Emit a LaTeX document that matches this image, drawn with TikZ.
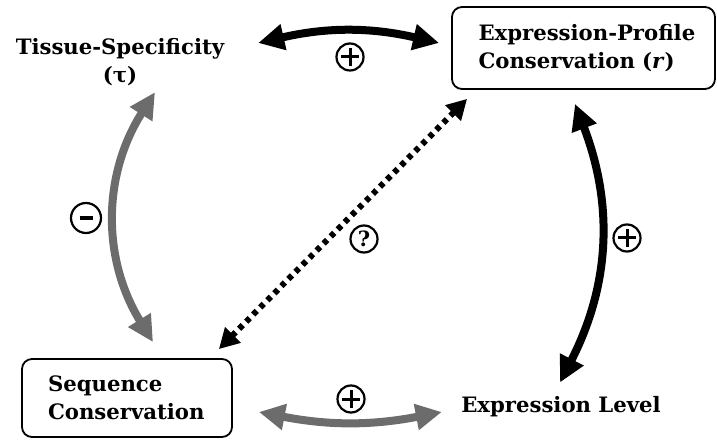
\documentclass[tikz,border=0pt]{standalone}
\usepackage{fontspec}
\setmainfont{DejaVu Serif}
\usetikzlibrary{arrows.meta,calc,shapes.geometric}
\definecolor{agray}{RGB}{108,108,108}
\begin{document}
\begin{tikzpicture}[x=1pt,y=1pt,
  lbl/.style={font=\fontsize{21.2}{27.5}\selectfont\bfseries, inner sep=0pt},
  boxnode/.style={lbl, draw, line width=1.8pt, rounded corners=10pt, align=left},
  bigarrow/.style={line width=8pt, {Triangle[length=26pt,width=25pt]}-{Triangle[length=26pt,width=25pt]}},
  dotarrow/.style={line width=6pt, dash pattern=on 5pt off 5pt, shorten <=0pt,
     {Triangle[length=20pt,width=21pt]}-{Triangle[length=20pt,width=21pt]}},
  sign/.style={circle, draw, line width=2.2pt, minimum size=27pt, inner sep=0pt},
  plussign/.style={sign, path picture={\draw[line width=3pt]
     ([xshift=-9pt]path picture bounding box.center)--([xshift=9pt]path picture bounding box.center)
     ([yshift=-9pt]path picture bounding box.center)--([yshift=9pt]path picture bounding box.center);}},
  minussign/.style={sign, path picture={\draw[line width=4pt]
     ([xshift=-6.5pt]path picture bounding box.center)--([xshift=6.5pt]path picture bounding box.center);}},
]
\useasboundingbox (0,0) rectangle (717,439);
% nodes
\node[lbl, align=center, minimum width=212pt, minimum height=60pt] (tissue) at (120,377) {Tissue-Specificity\\(τ)};
\node[boxnode, minimum width=263pt, minimum height=82pt, text width=210pt] (ep) at (583.5,391) {\mbox{Expression-Profile}\\\mbox{Conservation (\textit{r})}};
\node[boxnode, minimum width=210pt, minimum height=78pt, text width=158pt] (seq) at (127,41) {\mbox{Sequence}\\\mbox{Conservation}};
\node[lbl, minimum width=204pt, minimum height=20pt] (el) at (561,32) {Expression Level};
% connectors
\draw[bigarrow] ($(tissue.east)+(32,19)$) to[bend left=13] ($(ep.west)+(-12,5)$);
\draw[bigarrow, agray] ($(seq.north)+(26,16)$) to[bend left=32] ($(tissue.south)+(35,0)$);
\draw[bigarrow] ($(el.north)+(-1,14)$) to[bend right=24] ($(ep.south)+(-8.5,-14)$);
\draw[bigarrow, agray] ($(seq.east)+(26,-14)$) to[bend right=11] ($(el.west)+(-17,-5)$);
\draw[dotarrow] ($(seq.north east)+(-14,9)$) -- ($(ep.south west)+(16,-9)$);
% signs
\node[plussign] (s1) at (350,382) {};
\node[minussign, minimum width=29pt, minimum height=30pt] (s2) at (86,221) {};
\node[plussign] (s3) at (627,201) {};
\node[plussign] (s4) at (351,40) {};
\node[sign, font=\fontsize{21}{21}\selectfont\bfseries] (s5) at (364,200) {?};
\end{tikzpicture}
\end{document}
